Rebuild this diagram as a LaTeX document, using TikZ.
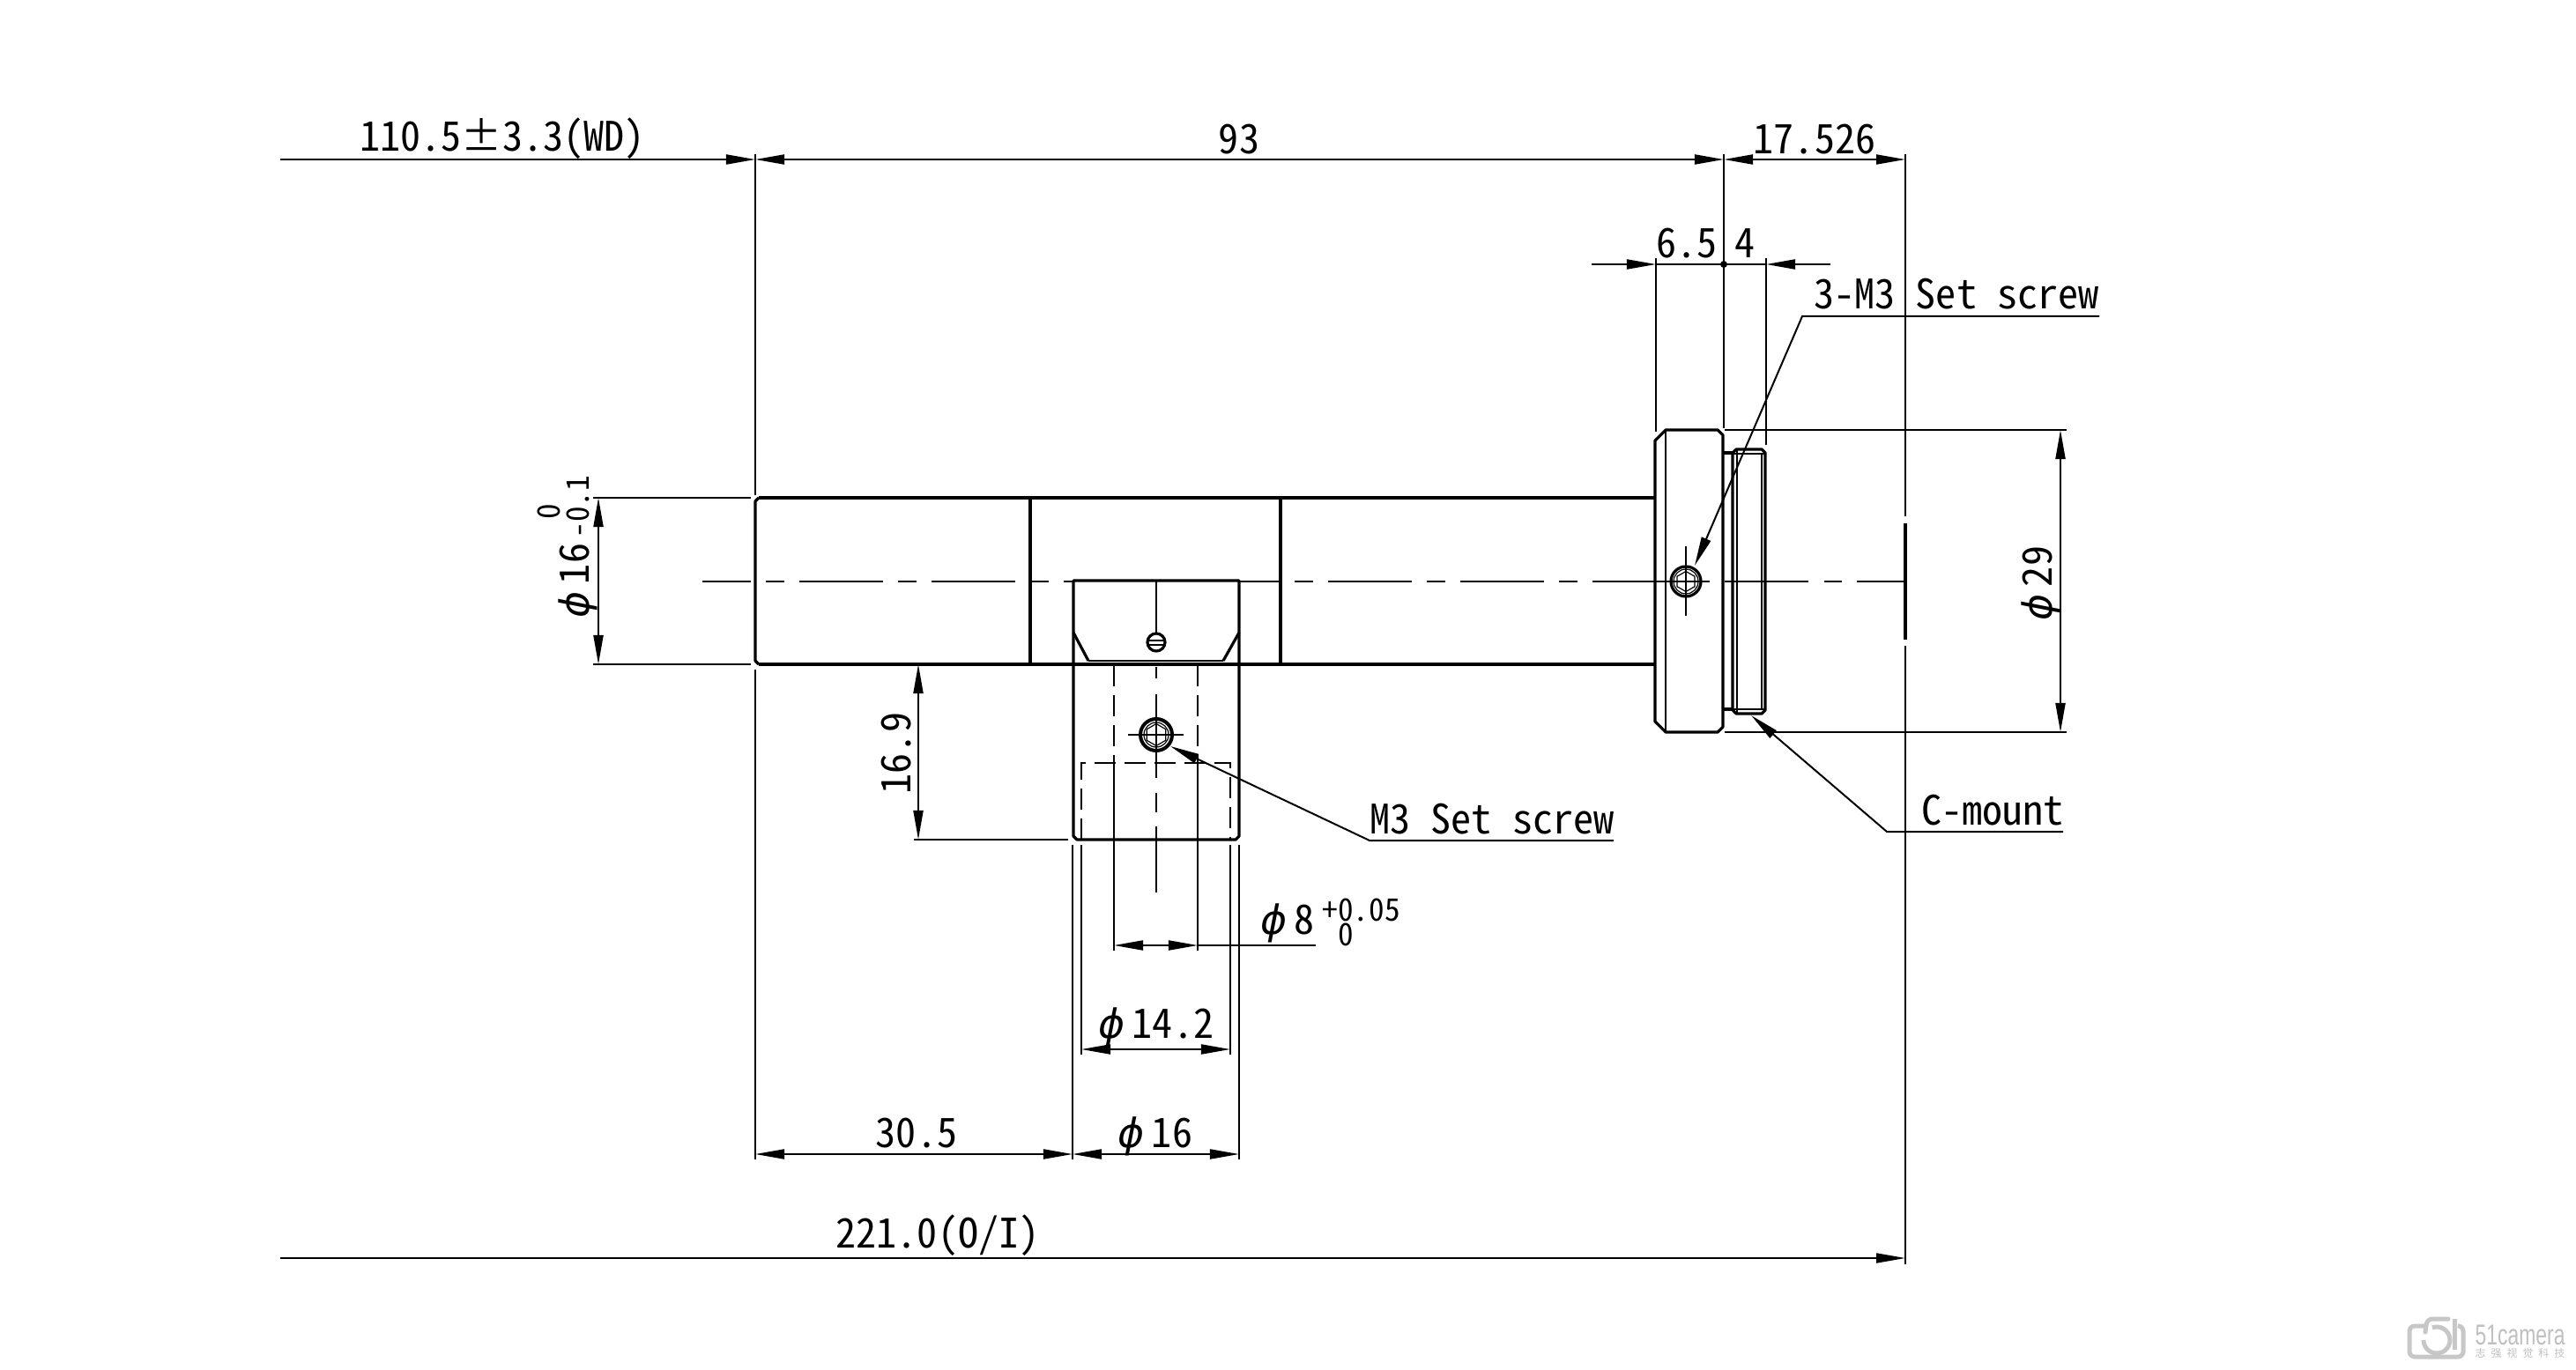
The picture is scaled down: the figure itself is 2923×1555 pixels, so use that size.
\documentclass[tikz,border=0pt]{standalone}
\usepackage{fontspec}
\setmainfont{Noto Sans CJK JP}[CharacterWidth=Half]
\newfontfamily\phifont{DejaVu Sans}
\newfontfamily\cnfont{Noto Sans CJK SC}
\newfontfamily\logofont{Liberation Sans}[FakeStretch=.7]
\usetikzlibrary{arrows.meta,shapes.geometric}
\newcommand{\phisym}{\makebox[.38cm][l]{\phifont\itshape\fontsize{13}{13}\selectfont ϕ}}
\tikzset{
  part/.style={line width=.032cm,line join=round},
  fine/.style={line width=.012cm},
  dimline/.style={line width=.02cm},
  arr/.style={dimline,-{Triangle[length=.33cm,width=.11cm]}},
  bothways/.style={dimline,{Triangle[length=.33cm,width=.11cm]}-{Triangle[length=.33cm,width=.11cm]}},
  hiddenline/.style={line width=.02cm,dash pattern=on .24cm off .1cm},
  label/.style={inner sep=0pt,anchor=base,font=\fontsize{13.1}{16}\selectfont},
  tol/.style={inner sep=0pt,anchor=base,font=\fontsize{10}{12}\selectfont},
  hexhead/.style={draw,regular polygon,regular polygon sides=6,rotate=30,inner sep=0pt,line width=.012cm},
  logo/.style={draw=black!22,line width=.05cm,line cap=round,rounded corners=.06cm}
}
\begin{document}
\begin{tikzpicture}[x=.01cm,y=-.01cm]
\useasboundingbox (0,0) rectangle (2923,1555);

\draw[part] (861,565) -- (1878,565);
\draw[part] (861,754) -- (1878,754);
\draw[part] (861,565) -- (857,569) -- (857,750) -- (861,754);
\draw[part] (1169,565) -- (1169,754);
\draw[part] (1453,565) -- (1453,754);

\draw[part] (1218,659) -- (1406,659) -- (1406,949) -- (1402,953) -- (1222,953) -- (1218,949) -- cycle;
\draw[part] (1218,718) -- (1235,750);
\draw[part] (1406,718) -- (1388,750);
\draw[fine] (1235,750) -- (1388,750);
\draw[dimline] (1312,659) -- (1312,718);
\draw[part] (1312,729) circle (10);
\draw[fine] (1303,727) -- (1321,727);
\draw[fine] (1303,732) -- (1321,732);

\draw[part] (1890,488) -- (1949,488) -- (1955,494) -- (1955,825) -- (1949,831) -- (1890,831) -- (1878,819) -- (1878,500) -- cycle;
\draw[fine] (1890,488) -- (1890,831);
\draw[part] (1955,514) -- (1966,514);
\draw[part] (1955,805) -- (1966,805);
\draw[part] (1966,514) -- (1970,510) -- (1999,510) -- (2003,514) -- (2003,806) -- (1999,810) -- (1970,810) -- (1966,806) -- cycle;
\draw[fine] (1971,510) -- (1971,810);
\draw[fine] (1999,514) -- (1999,806);
\draw[fine] (1966,515) -- (2003,515);
\draw[fine] (1966,805) -- (2003,805);

\draw[dimline] (797,660) -- (852,660);
\draw[dimline] (869,660) -- (890,660);
\draw[dimline] (907,660) -- (1002,660);
\draw[dimline] (1019,660) -- (1040,660);
\draw[dimline] (1057,660) -- (1152,660);
\draw[dimline] (1170,660) -- (1190,660);
\draw[dimline] (1207,660) -- (1218,660);
\draw[dimline] (1406,660) -- (1453,660);
\draw[dimline] (1469,660) -- (1490,660);
\draw[dimline] (1507,660) -- (1602,660);
\draw[dimline] (1619,660) -- (1640,660);
\draw[dimline] (1657,660) -- (1752,660);
\draw[dimline] (1769,660) -- (1790,660);
\draw[dimline] (1807,660) -- (1940,660);
\draw[dimline] (1957,660) -- (2052,660);
\draw[dimline] (2070,660) -- (2090,660);
\draw[dimline] (2107,660) -- (2160,660);

\draw[dimline] (1913,620) -- (1913,699);
\draw[part] (1913,660) circle (17);
\draw[fine] (1913,660) circle (14);
\node[hexhead,minimum size=.23cm] (sidehex) at (1913,660) {};

\draw[dimline] (1312,757) -- (1312,770);
\draw[dimline] (1312,788) -- (1312,883);
\draw[dimline] (1312,900) -- (1312,922);
\draw[dimline] (1312,938) -- (1312,1013);
\draw[dimline] (1280,834) -- (1343,834);
\draw[line width=.04cm] (1312,834) circle (18);
\draw[fine] (1312,834) circle (14);
\node[hexhead,minimum size=.25cm] (blockhex) at (1312,834) {};

\draw[hiddenline] (1264,755) -- (1264,877);
\draw[hiddenline] (1359,755) -- (1359,877);
\draw[hiddenline] (1227,953) -- (1227,866) -- (1396,866) -- (1396,953);

\draw[dimline] (857,175) -- (857,562);
\draw[dimline] (857,760) -- (857,1316);
\draw[dimline] (1956,175) -- (1956,486);
\draw[dimline] (2162,175) -- (2162,586);
\draw[part] (2162,594) -- (2162,726);
\draw[dimline] (2162,733) -- (2162,1435);
\draw[dimline] (1879,293) -- (1879,490);
\draw[dimline] (2004,293) -- (2004,505);
\draw[dimline] (673,565) -- (852,565);
\draw[dimline] (673,754) -- (852,754);
\draw[dimline] (1037,953) -- (1212,953);
\draw[dimline] (1957,488) -- (2345,488);
\draw[dimline] (1957,831) -- (2345,831);
\draw[dimline] (1217,959) -- (1217,1316);
\draw[dimline] (1406,959) -- (1406,1316);
\draw[dimline] (1227,959) -- (1227,1197);
\draw[dimline] (1396,959) -- (1396,1197);
\draw[dimline] (1264,877) -- (1264,1079);
\draw[dimline] (1359,877) -- (1359,1079);

\draw[arr] (318,181) -- (857,181);
\draw[bothways] (857,181) -- (1956,181);
\draw[bothways] (1956,181) -- (2162,181);
\draw[arr] (1806,300) -- (1879,300);
\draw[dimline] (1879,300) -- (2004,300);
\draw[arr] (2077,300) -- (2004,300);
\fill (1956,300) circle (4);
\draw[bothways] (679,565) -- (679,754);
\draw[bothways] (1042,754) -- (1042,953);
\draw[bothways] (2338,488) -- (2338,831);
\draw[bothways] (857,1310) -- (1217,1310);
\draw[bothways] (1217,1310) -- (1406,1310);
\draw[bothways] (1227,1191) -- (1396,1191);
\draw[bothways] (1264,1073) -- (1359,1073);
\draw[dimline] (1359,1073) -- (1493,1073);
\draw[arr] (318,1428) -- (2162,1428);

\draw[arr] (2382,359) -- (2045,359) -- (1923,642);
\draw[arr] (1831,954) -- (1554,954) -- (1328,847);
\draw[arr] (2341,944) -- (2141,944) -- (1987,812);

\node[label] (wdlabel) at (570,172) {110.5±3.3(WD)};
\node[label] (toplabel) at (1406,175) {93};
\node[label] (flangelabel) at (2059,175) {17.526};
\node[label] (leftlabel) at (1914,293) {6.5};
\node[label] (rightlabel) at (1980,293) {4};
\node[label] (sidescrew) at (2220,351) {3-M3 Set screw};
\node[label] (blockscrew) at (1693,946) {M3 Set screw};
\node[label] (mountlabel) at (2261,936) {C-mount};
\node[label] (offsetlabel) at (1040,1302) {30.5};
\node[label] (blocklabel) at (1311,1302) {\phisym 16};
\node[label] (bodylabel) at (1312,1178) {\phisym 14.2};
\node[label,anchor=base west] (holelabel) at (1430,1060) {\phisym 8};
\node[tol,anchor=base west] (holeplus) at (1500,1045) {+0.05};
\node[tol] (holezero) at (1527,1073) {0};
\node[label] (totallabel) at (1064,1416) {221.0(O/I)};
\node[label,rotate=90] (barrellabel) at (668,659) {\phisym 16};
\node[tol,rotate=90] (barrelzero) at (635,581) {0};
\node[tol,rotate=90] (barrelminus) at (668,575) {-0.1};
\node[label,rotate=90] (mountdia) at (2328,662) {\phisym 29};
\node[label,rotate=90] (heightlabel) at (1033,855) {16.9};

\draw[logo] (2752,1505) -- (2734,1505) -- (2734,1540) -- (2795,1540) -- (2795,1505) -- (2790,1505);
\draw[logo] (2778,1497) -- (2754,1497) -- (2752,1512);
\draw[draw=black!22,line width=.05cm] (2750,1521) arc (180:-110:15);
\draw[draw=black!22,line width=.05cm] (2785,1497) -- (2785,1532);
\node[inner sep=0pt,anchor=base west,text=black!25,font=\logofont\fontsize{9.3}{10}\selectfont] (logoname) at (2808,1526) {51camera};
\node[inner sep=0pt,anchor=base west,text=black!25,font=\cnfont\fontsize{3.4}{4}\selectfont] (logocn) at (2808,1540) {志\,\,\,强\,\,\,视\,\,\,觉\,\,\,科\,\,\,技};
\end{tikzpicture}
\end{document}
